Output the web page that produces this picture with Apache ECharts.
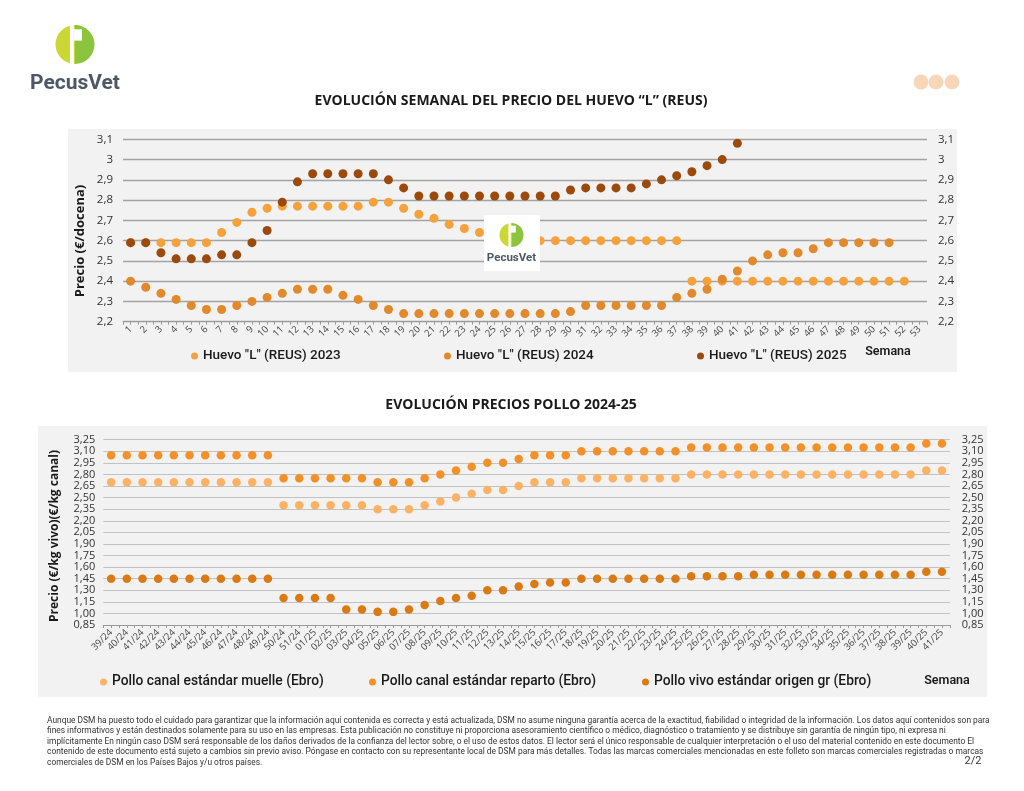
<!DOCTYPE html>
<html>
<head>
<meta charset="utf-8">
<script src="https://cdn.jsdelivr.net/npm/echarts@6/dist/echarts.min.js"></script>
<style>
html,body{margin:0;padding:0;background:#fff;}
#c{width:1024px;height:791px;}
</style>
</head>
<body>
<div id="c"></div>
<script>
// ---------- DATA ----------
const semanas = ['1','2','3','4','5','6','7','8','9','10','11','12','13','14','15','16','17','18','19','20','21','22','23','24','25','26','27','28','29','30','31','32','33','34','35','36','37','38','39','40','41','42','43','44','45','46','47','48','49','50','51','52','53'];

const huevo2023 = [2.59,2.59,2.59,2.59,2.59,2.59,2.64,2.69,2.74,2.76,2.77,2.77,2.77,2.77,2.77,2.77,2.79,2.79,2.76,2.73,2.71,2.68,2.66,2.64,2.62,2.61,2.60,2.60,2.60,2.60,2.60,2.60,2.60,2.60,2.60,2.60,2.60,2.40,2.40,2.40,2.40,2.40,2.40,2.40,2.40,2.40,2.40,2.40,2.40,2.40,2.40,2.40,null];
const huevo2024 = [2.40,2.37,2.34,2.31,2.28,2.26,2.26,2.28,2.30,2.32,2.34,2.36,2.36,2.36,2.33,2.31,2.28,2.26,2.24,2.24,2.24,2.24,2.24,2.24,2.24,2.24,2.24,2.24,2.24,2.25,2.28,2.28,2.28,2.28,2.28,2.28,2.32,2.34,2.36,2.41,2.45,2.50,2.53,2.54,2.54,2.56,2.59,2.59,2.59,2.59,2.59,null,null];
const huevo2025 = [2.59,2.59,2.54,2.51,2.51,2.51,2.53,2.53,2.59,2.65,2.79,2.89,2.93,2.93,2.93,2.93,2.93,2.90,2.86,2.82,2.82,2.82,2.82,2.82,2.82,2.82,2.82,2.82,2.82,2.85,2.86,2.86,2.86,2.86,2.88,2.90,2.92,2.94,2.97,3.00,3.08,null,null,null,null,null,null,null,null,null,null,null,null];

const semanasPollo = ['39/24','40/24','41/24','42/24','43/24','44/24','45/24','46/24','47/24','48/24','49/24','50/24','51/24','01/25','02/25','03/25','04/25','05/25','06/25','07/25','08/25','09/25','10/25','11/25','12/25','13/25','14/25','15/25','16/25','17/25','18/25','19/25','20/25','21/25','22/25','23/25','24/25','25/25','26/25','27/25','28/25','29/25','30/25','31/25','32/25','33/25','34/25','35/25','36/25','37/25','38/25','39/25','40/25','41/25'];

const polloMuelle = [2.70,2.70,2.70,2.70,2.70,2.70,2.70,2.70,2.70,2.70,2.70,2.40,2.40,2.40,2.40,2.40,2.40,2.35,2.35,2.35,2.40,2.45,2.50,2.55,2.60,2.60,2.65,2.70,2.70,2.70,2.75,2.75,2.75,2.75,2.75,2.75,2.75,2.80,2.80,2.80,2.80,2.80,2.80,2.80,2.80,2.80,2.80,2.80,2.80,2.80,2.80,2.80,2.85,2.85];
const polloReparto = [3.05,3.05,3.05,3.05,3.05,3.05,3.05,3.05,3.05,3.05,3.05,2.75,2.75,2.75,2.75,2.75,2.75,2.70,2.70,2.70,2.75,2.80,2.85,2.90,2.95,2.95,3.00,3.05,3.05,3.05,3.10,3.10,3.10,3.10,3.10,3.10,3.10,3.15,3.15,3.15,3.15,3.15,3.15,3.15,3.15,3.15,3.15,3.15,3.15,3.15,3.15,3.15,3.20,3.20];
const polloVivo = [1.45,1.45,1.45,1.45,1.45,1.45,1.45,1.45,1.45,1.45,1.45,1.20,1.20,1.20,1.20,1.05,1.05,1.02,1.02,1.05,1.11,1.16,1.20,1.23,1.30,1.30,1.35,1.38,1.40,1.40,1.45,1.45,1.45,1.45,1.45,1.45,1.45,1.48,1.48,1.48,1.48,1.50,1.50,1.50,1.50,1.50,1.50,1.50,1.50,1.50,1.50,1.50,1.54,1.54];

const polloYTicks = [0.85,1.00,1.15,1.30,1.45,1.60,1.75,1.90,2.05,2.20,2.35,2.50,2.65,2.80,2.95,3.10,3.25];

const nombresHuevo = ['Huevo "L" (REUS) 2023','Huevo "L" (REUS) 2024','Huevo "L" (REUS) 2025'];
const nombresPollo = ['Pollo canal estándar muelle (Ebro)','Pollo canal estándar reparto (Ebro)','Pollo vivo estándar origen gr (Ebro)'];

const footerLines = [
 'Aunque DSM ha puesto todo el cuidado para garantizar que la información aquí contenida es correcta y está actualizada, DSM no asume ninguna garantía acerca de la exactitud, fiabilidad o integridad de la información. Los datos aquí contenidos son para',
 'fines informativos y están destinados solamente para su uso en las empresas. Esta publicación no constituye ni proporciona asesoramiento científico o médico, diagnóstico o tratamiento y se distribuye sin garantía de ningún tipo, ni expresa ni',
 'implícitamente En ningún caso DSM será responsable de los daños derivados de la confianza del lector sobre, o el uso de estos datos. El lector será el único responsable de cualquier interpretación o el uso del material contenido en este documento El',
 'contenido de este documento está sujeto a cambios sin previo aviso. Póngase en contacto con su representante local de DSM para más detalles. Todas las marcas comerciales mencionadas en este folleto son marcas comerciales registradas o marcas',
 'comerciales de DSM en los Países Bajos y/u otros países.'
];

// ---------- STYLE ----------
const FONT = 'Open Sans';
const cHuevo = ['#F7A13A','#E2892B','#9C4A0C'];
const cPollo = ['#FDB163','#F39028','#DB7913'];

const chart = echarts.init(document.getElementById('c'), null, {renderer:'canvas'});

function logo(cx, cy, r, textY, textSize, zz){
  return [
    {type:'sector', z:zz, shape:{cx:cx, cy:cy, r:r, startAngle:Math.PI/2, endAngle:Math.PI*1.5}, style:{fill:'#CBD733'}},
    {type:'sector', z:zz, shape:{cx:cx, cy:cy, r:r, startAngle:-Math.PI/2, endAngle:Math.PI/2}, style:{fill:'#8CC43F'}},
    {type:'rect', z:zz+1, shape:{x:cx-r*0.26, y:cy-r, width:r*0.2, height:2*r}, style:{fill:'#fff'}},
    {type:'rect', z:zz+1, shape:{x:cx-r*0.06, y:cy-r*0.78, width:r*0.42, height:r*0.58}, style:{fill:'#fff'}},
    {type:'text', z:zz+1, style:{text:'PecusVet', x:cx, y:textY, align:'center', verticalAlign:'middle', fill:'#4D5866', font:'bold '+textSize+'px Roboto'}}
  ];
}

const graphics = [
  {type:'rect', z:-100, shape:{x:68, y:129, width:889, height:243}, style:{fill:'#F2F2F2'}},
  {type:'rect', z:-100, shape:{x:38, y:426, width:949, height:271}, style:{fill:'#F2F2F2'}},
  {type:'text', style:{text:'EVOLUCIÓN SEMANAL DEL PRECIO DEL HUEVO “L” (REUS)', x:511, y:101, align:'center', verticalAlign:'middle', fill:'#1a1a1a', font:'bold 14px "'+FONT+'"'}},
  {type:'text', style:{text:'EVOLUCIÓN PRECIOS POLLO 2024-25', x:511, y:405, align:'center', verticalAlign:'middle', fill:'#1a1a1a', font:'bold 14px "'+FONT+'"'}},
  {type:'text', rotation:Math.PI/2, x:80, y:241, style:{text:'Precio (€/docena)', x:0, y:0, align:'center', verticalAlign:'middle', fill:'#1a1a1a', font:'bold 13px "'+FONT+'"'}},
  {type:'text', rotation:Math.PI/2, x:55, y:536, style:{text:'Precio (€/kg vivo)(€/kg canal)', x:0, y:0, align:'center', verticalAlign:'middle', fill:'#1a1a1a', font:'bold 12px "'+FONT+'"'}},
  {type:'text', style:{text:'Semana', x:888, y:352, align:'center', verticalAlign:'middle', fill:'#1a1a1a', font:'600 12.5px Roboto'}},
  {type:'text', style:{text:'Semana', x:947, y:681, align:'center', verticalAlign:'middle', fill:'#1a1a1a', font:'600 12.5px Roboto'}},
  {type:'circle', shape:{cx:921, cy:82, r:7.5}, style:{fill:'#F6C9A0', opacity:0.75}},
  {type:'circle', shape:{cx:936, cy:82, r:7.5}, style:{fill:'#F6C9A0', opacity:0.75}},
  {type:'circle', shape:{cx:952, cy:82, r:7.5}, style:{fill:'#F6C9A0', opacity:0.75}},
  {type:'rect', z:100, shape:{x:484, y:215, width:56, height:56}, style:{fill:'#fff'}},
  {type:'text', style:{text:'2/2', x:973, y:761, align:'center', verticalAlign:'middle', fill:'#333', font:'11px Roboto'}}
].concat(logo(75, 44.5, 19.5, 84, 21, 10))
 .concat(logo(511.5, 235, 12, 258, 11.5, 101))
 .concat(footerLines.map((t,i)=>({type:'text', style:{text:t, x:47, y:720.5+i*10.5, align:'left', verticalAlign:'middle', fill:'#333', font:'8.4px Roboto'}})));

const yFmt1 = v => String(Math.round(v*10)/10).replace('.', ',');
const yFmt2 = v => (Math.round(v*100)/100).toFixed(2).replace('.', ',');

function xAxisCfg(grid, data, main){
  return {
    type:'category', gridIndex:grid, data:data, boundaryGap:true, position:'bottom',
    axisLine:{show:main, lineStyle:{color:'#9a9a9a', width:1}},
    axisTick:{show:true, interval:0, length:3, alignWithLabel:!main, lineStyle:{color:'#9a9a9a', width:1}},
    axisLabel:{show:main, interval:0, rotate:45, fontSize:9.5, color:'#444', margin:6, fontFamily:FONT},
    splitLine:{show:false}
  };
}

function legendCfg(name, left, top, size){
  return {
    data:[name], left:left, top:top, padding:0, icon:'circle', itemWidth:7, itemHeight:7,
    textStyle:{fontSize:size, fontWeight:500, color:'#1a1a1a', fontFamily:'Roboto'},
    selectedMode:false
  };
}

const polloLabel = (margin) => ({customValues:polloYTicks, formatter:yFmt2, fontSize:11, color:'#333', margin:margin,
  fontFamily:FONT, showMinLabel:true, showMaxLabel:true, hideOverlap:false, lineHeight:11});

const option = {
  backgroundColor:'#ffffff',
  animation:false,
  graphic:{elements:graphics},
  grid:[
    {left:123, width:804, top:139.3, height:182.4, outerBoundsMode:'none', containLabel:false},
    {left:103.3, width:846.5, top:439.7, height:185.3, outerBoundsMode:'none', containLabel:false}
  ],
  legend:[
    legendCfg(nombresHuevo[0], 191, 349, 13.5),
    legendCfg(nombresHuevo[1], 444, 349, 13.5),
    legendCfg(nombresHuevo[2], 697, 349, 13.5),
    legendCfg(nombresPollo[0], 100, 675, 13.8),
    legendCfg(nombresPollo[1], 369, 675, 13.8),
    legendCfg(nombresPollo[2], 642, 675, 13.8)
  ],
  xAxis:[
    xAxisCfg(0, semanas, true),
    xAxisCfg(0, semanas, false),
    xAxisCfg(1, semanasPollo, true),
    xAxisCfg(1, semanasPollo, false)
  ],
  yAxis:[
    {type:'value', gridIndex:0, position:'left', min:2.2, max:3.1, interval:0.1,
      axisLine:{show:false}, axisTick:{show:false},
      axisLabel:{formatter:yFmt1, fontSize:11.5, color:'#333', margin:10, fontFamily:FONT},
      splitLine:{show:true, lineStyle:{color:'#A3A3A3', width:1.3}}},
    {type:'value', gridIndex:0, position:'right', min:2.2, max:3.1, interval:0.1,
      axisLine:{show:false}, axisTick:{show:false},
      axisLabel:{formatter:yFmt1, fontSize:11.5, color:'#333', margin:11, fontFamily:FONT},
      splitLine:{show:false}},
    {type:'value', gridIndex:1, position:'left', min:0.85, max:3.25,
      axisLine:{show:false}, axisTick:{show:false, customValues:polloYTicks},
      axisLabel:polloLabel(8),
      splitLine:{show:true, lineStyle:{color:'#C2C2C2', width:1.2}}},
    {type:'value', gridIndex:1, position:'right', min:0.85, max:3.25,
      axisLine:{show:false}, axisTick:{show:false, customValues:polloYTicks},
      axisLabel:polloLabel(12),
      splitLine:{show:false}}
  ],
  series:[
    {name:nombresHuevo[0], type:'scatter', xAxisIndex:0, yAxisIndex:0, data:huevo2023, symbolSize:9, itemStyle:{color:cHuevo[0], opacity:1}},
    {name:nombresHuevo[1], type:'scatter', xAxisIndex:0, yAxisIndex:0, data:huevo2024, symbolSize:9, itemStyle:{color:cHuevo[1], opacity:1}},
    {name:nombresHuevo[2], type:'scatter', xAxisIndex:0, yAxisIndex:0, data:huevo2025, symbolSize:9, itemStyle:{color:cHuevo[2], opacity:1}},
    {name:nombresPollo[0], type:'scatter', xAxisIndex:2, yAxisIndex:2, data:polloMuelle, symbolSize:8.5, itemStyle:{color:cPollo[0], opacity:1}},
    {name:nombresPollo[1], type:'scatter', xAxisIndex:2, yAxisIndex:2, data:polloReparto, symbolSize:8.5, itemStyle:{color:cPollo[1], opacity:1}},
    {name:nombresPollo[2], type:'scatter', xAxisIndex:2, yAxisIndex:2, data:polloVivo, symbolSize:8.5, itemStyle:{color:cPollo[2], opacity:1}}
  ]
};
chart.setOption(option);
</script>
</body>
</html>
